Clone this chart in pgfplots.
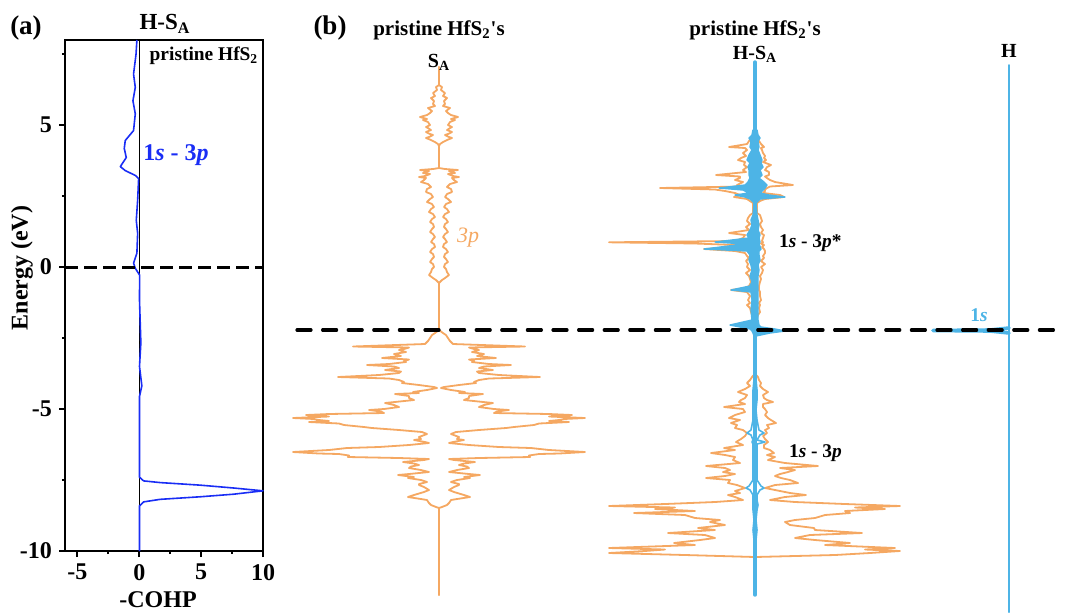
\documentclass[border=0pt]{standalone}
\usepackage{pgfplots}
\usepackage{pgfplotstable}
\pgfplotsset{compat=1.18}
\usepackage{fontspec}
\setmainfont{Liberation Serif}

\definecolor{dosorange}{RGB}{245,168,98}
\definecolor{dossky}{RGB}{77,180,230}
\definecolor{cohpblue}{RGB}{25,45,245}
\newcommand{\fs}[1]{\fontsize{#1}{#1}\selectfont}

% -COHP of the H-S_A pair (x: -COHP, y: energy in eV)
\pgfplotstableread{
x E
-0.19 8.0
-0.26 7.5
-0.46 6.8
-0.32 6.33
-0.51 5.86
-0.32 5.4
-0.46 4.81
-1.13 4.46
-1.21 4.18
-1.05 3.86
-1.53 3.54
-1.13 3.40
-0.32 3.23
-0.05 3.12
-0.13 2.35
-0.24 1.65
-0.13 1.19
-0.19 0.49
-0.46 0.14
-0.32 -0.04
0.03 -0.28
0.02 -1.16
0.13 -2.67
0.02 -3.5
0.21 -4.18
0.02 -4.56
0.02 -7.40
0.35 -7.53
1.69 -7.59
4.92 -7.68
7.6 -7.78
10.0 -7.88
7.6 -8.0
4.92 -8.09
1.69 -8.18
0.35 -8.27
0.02 -8.41
0.02 -10
}\tabCOHP

% S_A 3p DOS of pristine HfS2 (y: row position, w: half width, mirrored)
\pgfplotstableread{
y w
67 0
85 0
87 3
90 2
93 6
96 4
98 8
101 5
104 6
106 4
108 11
111 7
113 9
115 12
117 19
119 12
120 16
122 11
125 9
127 13
128 11
130 8
132 13
134 9
135 6
137 10
138 13
140 8
142 4
144 1
146 0
168 0
169 6
170 19
171 10
173 16
174 9
176 14
177 20
178 13
180 15
182 18
184 11
187 8
189 12
192 13
194 8
197 6
199 9
202 12
204 7
207 5
209 8
212 10
214 6
217 4
219 7
222 9
224 6
227 5
229 7
232 9
234 6
237 4
239 6
242 8
244 5
247 4
249 7
252 9
254 6
257 5
259 7
262 9
264 6
267 5
269 7
272 8
275 10
278 6
280 3
283 0
330 0
333 4
335 7
338 9
341 11
344 14
346.5 86
347.5 30
349 35
350 40
352 33
354 45
356 38
358 57
359.5 30
361 35
362 33
364 50
365 72
366.5 45
368 40
370 54
371.5 38
373 40
375 60
377 101
378.5 50
380 40
382 35
383 37
385 20
387 5
388 2
390 12
392 26
393 20
394 44
396 30
398 30
400 25
403 54
405 45
407 40
409 55
410 70
411.5 58
413 55
414 110
415 133
416.5 110
418 146
419 125
420 120
421 110
422 130
423.5 100
425 95
427 75
428 67
430 40
432 17
434 12
437 20
439 18
440 25
442 14
443 10
445 30
447 60
448 92
450 110
452 146
453.5 120
454 100
455.5 90
457 91
458 40
459 10
460 15
462 36
463.5 25
465 20
466.5 28
468 30
470 18
472 10
474 30
475 41
477 25
478 31
480 18
482 12
484 20
485 20
487 15
490 10
492 15
495 25
497 31
499 18
500 12
503 10
505 8
507 3
508 0
595 0
}\tabSA

% H-S_A projected DOS, orange part (left and right extents)
\pgfplotstableread{
y wl wr
136 0 0
138 4 3
141 6 4
144 8 6
147 26 9
148 10 6
150 8 7
153 12 8
156 9 10
158 14 9
160 17 11
162 10 8
165 11 16
167 8 12
170 12 10
172 9 14
175 39 14
176.5 15 10
178 15 12
180 20 15
182 12 20
185 18 38
186.5 14 15
188 95 12
189.5 40 10
191 30 10
193 20 8
195 15 25
197 21 29
199 8 10
201 5 5
203 2 2
213 2 2
215 5 5
218 7 6
221 8 7
224 5 5
227 9 6
230 6 8
233 26 6
235 10 9
238 12 8
241 20 7
242.3 146 8
243.5 60 6
245 20 9
247 15 7
249 51 9
251 20 10
253 10 10
256 8 8
258 6 9
261 9 6
264 7 10
267 8 6
270 5 8
273 9 7
276 6 5
279 5 6
282 4 5
286 6 4
288 10 4
290 24 4
292 8 5
296 5 5
300 7 6
303 5 4
305 8 5
308 5 4
312 4 5
315 3 3
318 2 2
322 0 0
}\tabHSup

\pgfplotstableread{
y wl wr
374 0 0
377 3 3
380 5 4
383 8 6
386 5 5
389 10 8
392 17 13
395 8 8
398 10 9
400 14 12
402 16 18
404 10 8
407 31 8
409 12 10
412 10 12
415 20 10
418 26 13
420 15 16
423 24 21
425 18 12
428 20 14
430 12 10
433 8 12
436 10 8
439 14 10
442 19 13
445 12 9
448 31 9
450 20 15
453 44 19
455 30 12
457 20 20
460 22 13
463 15 30
466 49 63
468 30 25
470 25 40
472 32 33
474 20 25
476 30 20
478 49 26
480 25 35
483 27 43
485 18 20
488 10 10
491 20 25
493 15 35
495 27 51
497 20 30
500 12 15
502 40 40
504 90 90
506 146 145
507.5 80 100
509 100 130
511 60 90
513 121 95
515 70 70
518 60 60
520 35 40
522 45 30
525 30 35
528 57 59
530 40 60
533 87 107
535 50 55
538 40 40
540 55 60
543 81 95
545 60 70
548 146 140
549.5 90 110
551 110 145
553 146 115
555 70 80
557 0 0
}\tabHSlow

% H-S_A projected DOS, H 1s part: upper band as closed outline (dx, y)
\pgfplotstableread{
dx y
-2 130
-3 135
-6 138
-4 141
-5 147
-3 150
-6 155
-8 160
-5 163
-7 167
-6 170
-6 175
-5 178
-7 182
-10 185
-36 188
-12 190
-6 193
-20 195
-10 197
-5 199
-1 203
-2 215
-4 220
-3 225
-5 230
-8 235
-6 238
-40 242
-10 244
-51 249
-8 251
-5 255
-6 260
-4 265
-3 270
-5 276
-3 282
-5 286
-24 290
-4 292
-3 300
-4 310
-3 320
-25 325
-15 327
-5 329
-3 331
-2 333
-1 336
1 336
15 333
30 331
20 329
6 327
4 325
3 320
3 310
3 300
3 292
3 290
3 286
3 282
3 276
4 270
3 265
5 260
4 255
4 251
6 249
4 244
5 242
4 238
5 235
3 230
4 225
3 220
2 215
1 203
5 199
30 197
14 195
5 193
8 190
10 188
12 185
9 182
4 178
7 175
5 170
8 167
6 163
7 160
5 155
3 150
4 147
3 141
5 138
3 135
2 130
}\tabHSblueUp

% H 1s part of the lower band (left and right extents)
\pgfplotstableread{
y wl wr
380 1 1
390 2 2
400 2 2
410 2 1
420 2 2
430 4 4
433 8 9
435 4 5
440 2 2
442 3 10
444 2 2
460 2 2
470 2 2
480 2 2
486 6 6
488 9 9
490 5 5
495 2 2
500 2 2
505 2 3
510 2 2
520 1 1
530 2 2
540 1 1
550 1 1
}\tabHSblueLow

\begin{document}
\begin{tikzpicture}
\useasboundingbox (0,0) rectangle (532.5pt,306pt);

% (a) -COHP panel
\begin{axis}[
  at={(32.5pt,30.5pt)}, anchor=south west,
  scale only axis, width=99pt, height=255.5pt,
  xmin=-6, xmax=10, ymin=-10, ymax=8,
  xtick={-5,0,5,10}, ytick={-10,-5,0,5},
  minor xtick={-2.5,2.5,7.5}, minor ytick={-7.5,-2.5,2.5,7.5},
  tick align=outside, tick pos=left,
  major tick length=3pt, minor tick length=1.6pt,
  every tick/.style={black, line width=0.9pt},
  axis line style={line width=1pt},
  ticklabel style={font=\bfseries\fs{12}},
  /pgf/number format/assume math mode=true,
  clip=false,
  every axis plot/.append style={line join=round},
]
\addplot[black, line width=0.6pt] coordinates {(0,-10) (0,8)};
\addplot[cohpblue, line width=0.8pt] table[x=x, y=E] {\tabCOHP};
\addplot[black, line width=1.4pt, dash pattern=on 6.3pt off 3.2pt] coordinates {(-6,0) (10,0)};
\end{axis}

% (b) orbital interaction diagram, row/column positions in pixel units
\begin{axis}[
  at={(140pt,0pt)}, anchor=south west,
  scale only axis, width=392.5pt, height=306pt,
  xmin=280, xmax=1065, ymin=0, ymax=612, y dir=reverse,
  hide axis, clip=false,
  every axis plot/.append style={line join=round, line cap=round},
]
% S_A 3p
\addplot[dosorange, line width=0.9pt] table[x expr={439+\thisrow{w}}, y=y] {\tabSA};
\addplot[dosorange, line width=0.9pt] table[x expr={439-\thisrow{w}}, y=y] {\tabSA};
% H-S_A
\addplot[dosorange, line width=0.9pt] table[x expr={755-\thisrow{wl}}, y=y] {\tabHSup};
\addplot[dosorange, line width=0.9pt] table[x expr={755+\thisrow{wr}}, y=y] {\tabHSup};
\addplot[dosorange, line width=0.9pt] table[x expr={755-\thisrow{wl}}, y=y] {\tabHSlow};
\addplot[dosorange, line width=0.9pt] table[x expr={755+\thisrow{wr}}, y=y] {\tabHSlow};
\addplot[dossky, fill=dossky, line width=0.7pt] table[x expr={755+\thisrow{dx}}, y=y] {\tabHSblueUp} -- cycle;
\addplot[dossky, line width=0.8pt] table[x expr={755-\thisrow{wl}}, y=y] {\tabHSblueLow};
\addplot[dossky, line width=0.8pt] table[x expr={755+\thisrow{wr}}, y=y] {\tabHSblueLow};
\addplot[dossky, line width=1.7pt] coordinates {(755,62) (755,595)};
% H 1s
\addplot[dossky, line width=1pt] coordinates {(1009,65) (1009,612)};
\addplot[dossky, line width=1.8pt] coordinates {(1009,328) (990,330) (933,330.5) (990,331) (1009,333)};
% reference level
\addplot[black, line width=1.6pt, dash pattern=on 7pt off 5.8pt] coordinates {(297,330) (1063,330)};

% labels
\node[font=\bfseries\fs{13.5}] at (axis cs:26,28) {(a)};
\node[font=\bfseries\fs{11.5}] at (axis cs:165,24) {H-S\textsubscript{A}};
\node[font=\bfseries\fs{9.7}] at (axis cs:204,56) {pristine HfS\textsubscript{2}};
\node[font=\bfseries\fs{12}, text=cohpblue] at (axis cs:176,155) {1\textit{s} - 3\textit{p}};
\node[font=\bfseries\fs{12}, rotate=90] at (axis cs:22,268) {Energy (eV)};
\node[font=\bfseries\fs{12}] at (axis cs:158,600) {-COHP};

\node[font=\bfseries\fs{13.5}] at (axis cs:330,28) {(b)};
\node[font=\bfseries\fs{10.5}] at (axis cs:439,30) {pristine HfS\textsubscript{2}\textquotesingle s};
\node[font=\bfseries\fs{10.5}] at (axis cs:755,30) {pristine HfS\textsubscript{2}\textquotesingle s};
\node[font=\bfseries\fs{10}] at (axis cs:439,62) {S\textsubscript{A}};
\node[font=\bfseries\fs{10}] at (axis cs:755,54) {H-S\textsubscript{A}};
\node[font=\bfseries\fs{10}] at (axis cs:1009,51) {H};
\node[font=\itshape\fs{11}, text=dosorange] at (axis cs:468,238) {3p};
\node[font=\bfseries\fs{9.7}, anchor=west] at (axis cs:772,243) {1\textit{s} - 3\textit{p}*};
\node[font=\bfseries\fs{9.7}, anchor=west] at (axis cs:782,453) {1\textit{s} - 3\textit{p}};
\node[font=\bfseries\fs{9.7}, text=dossky] at (axis cs:979,315) {1\textit{s}};
\end{axis}
\end{tikzpicture}
\end{document}
